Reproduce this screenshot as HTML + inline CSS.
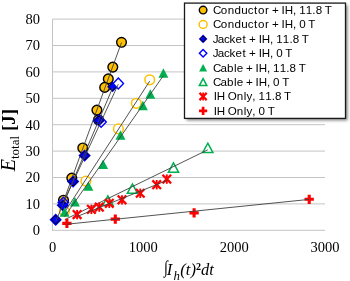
<!DOCTYPE html>
<html><head><meta charset="utf-8"><style>
html,body{margin:0;padding:0;background:#fff;}
body{width:350px;height:281px;overflow:hidden;position:relative;}
svg{position:absolute;left:0;top:0;will-change:transform;}
.tick{font-family:"Liberation Serif",serif;font-size:14.5px;fill:#000;}
.leg{font-family:"Liberation Sans",sans-serif;font-size:11.6px;fill:#000;}
.ax{font-family:"Liberation Serif",serif;fill:#000;}
</style></head><body>
<svg width="350" height="281" viewBox="0 0 350 281">
<defs><filter id="sh" x="-10%" y="-10%" width="120%" height="120%"><feGaussianBlur stdDeviation="1.4"/></filter></defs>
<line x1="52.5" y1="230.3" x2="325" y2="230.3" stroke="#C4C4C4" stroke-width="1"/>
<line x1="52.5" y1="203.9" x2="325" y2="203.9" stroke="#C4C4C4" stroke-width="1"/>
<line x1="52.5" y1="177.5" x2="325" y2="177.5" stroke="#C4C4C4" stroke-width="1"/>
<line x1="52.5" y1="151.1" x2="325" y2="151.1" stroke="#C4C4C4" stroke-width="1"/>
<line x1="52.5" y1="124.7" x2="325" y2="124.7" stroke="#C4C4C4" stroke-width="1"/>
<line x1="52.5" y1="98.3" x2="325" y2="98.3" stroke="#C4C4C4" stroke-width="1"/>
<line x1="52.5" y1="71.9" x2="325" y2="71.9" stroke="#C4C4C4" stroke-width="1"/>
<line x1="52.5" y1="45.5" x2="325" y2="45.5" stroke="#C4C4C4" stroke-width="1"/>
<line x1="52.5" y1="19.1" x2="325" y2="19.1" stroke="#C4C4C4" stroke-width="1"/>
<line x1="52.5" y1="19.1" x2="52.5" y2="230.8" stroke="#C4C4C4" stroke-width="1"/>
<circle cx="121.5" cy="42.3" r="4.85" fill="#FFC000" stroke="#000" stroke-width="1.4"/>
<circle cx="112.8" cy="67.1" r="4.85" fill="#FFC000" stroke="#000" stroke-width="1.4"/>
<circle cx="108.3" cy="78.9" r="4.85" fill="#FFC000" stroke="#000" stroke-width="1.4"/>
<circle cx="104.7" cy="87.4" r="4.85" fill="#FFC000" stroke="#000" stroke-width="1.4"/>
<circle cx="98.5" cy="119.8" r="4.85" fill="#FFC000" stroke="#000" stroke-width="1.4"/>
<circle cx="96.9" cy="110.1" r="4.85" fill="#FFC000" stroke="#000" stroke-width="1.4"/>
<circle cx="82.8" cy="148" r="4.85" fill="#FFC000" stroke="#000" stroke-width="1.4"/>
<circle cx="71.8" cy="178.1" r="4.85" fill="#FFC000" stroke="#000" stroke-width="1.4"/>
<circle cx="63.5" cy="200.2" r="4.85" fill="#FFC000" stroke="#000" stroke-width="1.4"/>
<line x1="63.5" y1="201.3" x2="121.5" y2="42.5" stroke="#404040" stroke-width="0.9"/>
<circle cx="149.7" cy="79.8" r="4.85" fill="#fff" stroke="#FFC000" stroke-width="1.5"/>
<circle cx="136.3" cy="103.3" r="4.85" fill="#fff" stroke="#FFC000" stroke-width="1.5"/>
<circle cx="118.4" cy="128.9" r="4.85" fill="#fff" stroke="#FFC000" stroke-width="1.5"/>
<circle cx="85.9" cy="181.1" r="4.85" fill="#fff" stroke="#FFC000" stroke-width="1.5"/>
<circle cx="64.4" cy="211.3" r="4.85" fill="#fff" stroke="#FFC000" stroke-width="1.5"/>
<line x1="64.4" y1="212.5" x2="149.7" y2="81.1" stroke="#404040" stroke-width="0.9"/>
<path d="M101.1 116.5L106.3 121.9L101.1 127.30000000000001L95.89999999999999 121.9Z" fill="#fff" stroke="#0000FF" stroke-width="1.4"/>
<path d="M112.5 81.39999999999999L117.9 86.8L112.5 92.2L107.1 86.8Z" fill="#0000FF"/><path d="M112.5 82.8L116.5 86.8L112.5 90.8L108.5 86.8Z" fill="none" stroke="#000" stroke-width="1"/>
<path d="M98.9 114.2L105.10000000000001 120.4L98.9 126.60000000000001L92.7 120.4Z" fill="#0000FF"/><path d="M98.9 115.9L103.4 120.4L98.9 124.9L94.4 120.4Z" fill="none" stroke="#000" stroke-width="1"/>
<path d="M84.6 149.4L90.8 155.6L84.6 161.79999999999998L78.39999999999999 155.6Z" fill="#0000FF"/><path d="M84.6 151.1L89.1 155.6L84.6 160.1L80.1 155.6Z" fill="none" stroke="#000" stroke-width="1"/>
<path d="M73.1 175.3L79.3 181.5L73.1 187.7L66.89999999999999 181.5Z" fill="#0000FF"/><path d="M73.1 177.0L77.6 181.5L73.1 186.0L68.6 181.5Z" fill="none" stroke="#000" stroke-width="1"/>
<path d="M62.8 199.10000000000002L69.0 205.3L62.8 211.5L56.599999999999994 205.3Z" fill="#0000FF"/><path d="M62.8 200.8L67.3 205.3L62.8 209.8L58.3 205.3Z" fill="none" stroke="#000" stroke-width="1"/>
<path d="M55.7 213.5L61.900000000000006 219.7L55.7 225.89999999999998L49.5 219.7Z" fill="#0000FF"/><path d="M55.7 215.2L60.2 219.7L55.7 224.2L51.2 219.7Z" fill="none" stroke="#000" stroke-width="1"/>
<line x1="55.7" y1="221.5" x2="112.5" y2="88.1" stroke="#404040" stroke-width="0.9"/>
<path d="M118.3 78.1L123.5 83.5L118.3 88.9L113.1 83.5Z" fill="#fff" stroke="#0000FF" stroke-width="1.4"/>
<path d="M63.3 197.2L68.5 202.6L63.3 208.0L58.099999999999994 202.6Z" fill="none" stroke="#0000FF" stroke-width="1.4"/>
<line x1="63.3" y1="203.1" x2="118.3" y2="84.2" stroke="#404040" stroke-width="0.9"/>
<path d="M163.4 68.25L168.35 77.75L158.45000000000002 77.75Z" fill="#00B050"/>
<path d="M150.3 89.15L155.25 98.65L145.35000000000002 98.65Z" fill="#00B050"/>
<path d="M142.9 100.85L147.85 110.35L137.95000000000002 110.35Z" fill="#00B050"/>
<path d="M120.5 130.15L125.45 139.65L115.55 139.65Z" fill="#00B050"/>
<path d="M103.1 159.55L108.05 169.05L98.14999999999999 169.05Z" fill="#00B050"/>
<path d="M88.4 181.25L93.35000000000001 190.75L83.45 190.75Z" fill="#00B050"/>
<path d="M74.9 197.05L79.85000000000001 206.55L69.95 206.55Z" fill="#00B050"/>
<path d="M64.6 207.25L69.55 216.75L59.64999999999999 216.75Z" fill="#00B050"/>
<line x1="64.6" y1="216.6" x2="163.4" y2="75.6" stroke="#404040" stroke-width="0.9"/>
<path d="M207.8 143.20000000000002L212.9 152.6L202.70000000000002 152.6Z" fill="#fff" stroke="#00B050" stroke-width="1.5" stroke-linejoin="miter"/>
<path d="M173.5 162.9L178.6 172.29999999999998L168.4 172.29999999999998Z" fill="#fff" stroke="#00B050" stroke-width="1.5" stroke-linejoin="miter"/>
<path d="M132.4 183.95000000000002L137.5 193.35L127.30000000000001 193.35Z" fill="#fff" stroke="#00B050" stroke-width="1.5" stroke-linejoin="miter"/>
<path d="M107.9 195.8L113.0 205.2L102.80000000000001 205.2Z" fill="#fff" stroke="#00B050" stroke-width="1.5" stroke-linejoin="miter"/>
<line x1="64.8" y1="219.6" x2="207.8" y2="149.8" stroke="#404040" stroke-width="0.9"/>
<path d="M72.8 210.29999999999998L81.39999999999999 218.9M81.39999999999999 210.29999999999998L72.8 218.9" stroke="#FF0000" stroke-width="2.3" fill="none"/><path d="M77.1 209.9L77.1 219.29999999999998" stroke="#FF0000" stroke-width="1.9" fill="none"/>
<path d="M87.10000000000001 205.0L95.7 213.60000000000002M95.7 205.0L87.10000000000001 213.60000000000002" stroke="#FF0000" stroke-width="2.3" fill="none"/><path d="M91.4 204.60000000000002L91.4 214.0" stroke="#FF0000" stroke-width="1.9" fill="none"/>
<path d="M95.0 202.79999999999998L103.6 211.4M103.6 202.79999999999998L95.0 211.4" stroke="#FF0000" stroke-width="2.3" fill="none"/><path d="M99.3 202.4L99.3 211.79999999999998" stroke="#FF0000" stroke-width="1.9" fill="none"/>
<path d="M105.0 199.0L113.6 207.60000000000002M113.6 199.0L105.0 207.60000000000002" stroke="#FF0000" stroke-width="2.3" fill="none"/><path d="M109.3 198.60000000000002L109.3 208.0" stroke="#FF0000" stroke-width="1.9" fill="none"/>
<path d="M117.7 195.54999999999998L126.3 204.15M126.3 195.54999999999998L117.7 204.15" stroke="#FF0000" stroke-width="2.3" fill="none"/><path d="M122 195.15L122 204.54999999999998" stroke="#FF0000" stroke-width="1.9" fill="none"/>
<path d="M135.95 188.95L144.55 197.55M144.55 188.95L135.95 197.55" stroke="#FF0000" stroke-width="2.3" fill="none"/><path d="M140.25 188.55L140.25 197.95" stroke="#FF0000" stroke-width="1.9" fill="none"/>
<path d="M152.39999999999998 180.39999999999998L161.0 189.0M161.0 180.39999999999998L152.39999999999998 189.0" stroke="#FF0000" stroke-width="2.3" fill="none"/><path d="M156.7 180.0L156.7 189.39999999999998" stroke="#FF0000" stroke-width="1.9" fill="none"/>
<path d="M162.5 174.79999999999998L171.10000000000002 183.4M171.10000000000002 174.79999999999998L162.5 183.4" stroke="#FF0000" stroke-width="2.3" fill="none"/><path d="M166.8 174.4L166.8 183.79999999999998" stroke="#FF0000" stroke-width="1.9" fill="none"/>
<line x1="77.1" y1="216.5" x2="166.8" y2="180.5" stroke="#404040" stroke-width="0.9"/>
<path d="M62.25000000000001 223.4H71.55000000000001M66.9 218.75V228.05" stroke="#FF0000" stroke-width="3.1" fill="none"/>
<path d="M110.64999999999999 219.1H119.95M115.3 214.45V223.75" stroke="#FF0000" stroke-width="3.1" fill="none"/>
<path d="M189.45 212.9H198.75M194.1 208.25V217.55" stroke="#FF0000" stroke-width="3.1" fill="none"/>
<path d="M304.55 199.3H313.84999999999997M309.2 194.65V203.95000000000002" stroke="#FF0000" stroke-width="3.1" fill="none"/>
<line x1="66.9" y1="224.2" x2="309.2" y2="199.4" stroke="#404040" stroke-width="0.9"/>
<text x="40" y="235.1" text-anchor="end" class="tick">0</text>
<text x="40" y="208.7" text-anchor="end" class="tick">10</text>
<text x="40" y="182.3" text-anchor="end" class="tick">20</text>
<text x="40" y="155.9" text-anchor="end" class="tick">30</text>
<text x="40" y="129.5" text-anchor="end" class="tick">40</text>
<text x="40" y="103.1" text-anchor="end" class="tick">50</text>
<text x="40" y="76.7" text-anchor="end" class="tick">60</text>
<text x="40" y="50.3" text-anchor="end" class="tick">70</text>
<text x="40" y="23.9" text-anchor="end" class="tick">80</text>
<text x="52.5" y="251.8" text-anchor="middle" class="tick">0</text>
<text x="143.3" y="251.8" text-anchor="middle" class="tick">1000</text>
<text x="234.2" y="251.8" text-anchor="middle" class="tick">2000</text>
<text x="325.0" y="251.8" text-anchor="middle" class="tick">3000</text>
<rect x="186.5" y="5.1" width="161" height="115.3" fill="#000" opacity="0.5" filter="url(#sh)"/>
<rect x="184.5" y="3.1" width="161" height="115.3" fill="#fff" stroke="#1a1a1a" stroke-width="1.3"/>
<circle cx="203.1" cy="10.1" r="3.8" fill="#FFC000" stroke="#000" stroke-width="1.4"/>
<text x="212.98 220.83 227.68 234.51 241.34 247.83 254.04 258.03 265.02 269.07 272.01 278.49 281.6 284.71 292.95 296.05 299.2 305.78 312.33 315.65 322.03 324.74" y="14.0" class="leg">Conductor + IH, 11.8 T</text>
<circle cx="203.1" cy="24.5" r="4.0" fill="#fff" stroke="#FFC000" stroke-width="1.5"/>
<text x="212.98 220.83 227.68 234.51 241.34 247.83 254.04 258.03 265.02 269.07 272.01 278.49 281.6 284.71 292.95 296.05 299.2 305.57 308.28" y="28.4" class="leg">Conductor + IH, 0 T</text>
<path d="M203.1 34.6L207.4 38.9L203.1 43.199999999999996L198.79999999999998 38.9Z" fill="#0000FF"/><path d="M203.1 35.9L206.1 38.9L203.1 41.9L200.1 38.9Z" fill="none" stroke="#000" stroke-width="1"/>
<text x="212.87 217.73 223.92 229.62 235.49 242.51 246.16 249.09 255.57 258.68 261.79 270.04 273.13 276.28 282.87 289.42 292.74 299.12 301.82" y="42.8" class="leg">Jacket + IH, 11.8 T</text>
<path d="M203.1 49.6L206.79999999999998 53.300000000000004L203.1 57.00000000000001L199.4 53.300000000000004Z" fill="#fff" stroke="#0000FF" stroke-width="1.4"/>
<text x="212.87 217.73 223.92 229.62 235.49 242.51 246.16 249.09 255.57 258.68 261.79 270.04 273.13 276.28 282.66 285.36" y="57.2" class="leg">Jacket + IH, 0 T</text>
<path d="M203.1 63.95L207.1 71.45L199.1 71.45Z" fill="#00B050"/>
<text x="212.98 220.52 227.05 233.89 236.68 243.0 245.93 252.41 255.52 258.63 266.88 269.97 273.12 279.71 286.26 289.58 295.96 298.66" y="71.6" class="leg">Cable + IH, 11.8 T</text>
<path d="M203.1 78.6L206.85 85.6L199.35 85.6Z" fill="#fff" stroke="#00B050" stroke-width="1.5" stroke-linejoin="miter"/>
<text x="212.98 220.52 227.05 233.89 236.68 243.0 245.93 252.41 255.52 258.63 266.88 269.97 273.12 279.5 282.2" y="86.0" class="leg">Cable + IH, 0 T</text>
<path d="M199.5 92.9L206.7 100.1M206.7 92.9L199.5 100.1" stroke="#FF0000" stroke-width="2.2" fill="none"/><path d="M203.1 92.6L203.1 100.4" stroke="#FF0000" stroke-width="1.7" fill="none"/>
<text x="213.73 216.84 224.93 227.81 236.81 243.65 246.48 252.33 255.42 258.57 265.16 271.71 275.03 281.41 284.11" y="100.4" class="leg">IH Only, 11.8 T</text>
<path d="M199.0 110.89999999999999H207.2M203.1 106.8V114.99999999999999" stroke="#FF0000" stroke-width="2.7" fill="none"/>
<text x="213.73 216.84 224.93 227.81 236.81 243.65 246.48 252.33 255.42 258.57 264.95 267.65" y="114.8" class="leg">IH Only, 0 T</text>
<text class="ax" transform="translate(164,272.6) scale(0.8,1)" x="0" y="0" font-size="17.7">&#x222B;</text>
<text class="ax" x="166.8" y="275" font-size="16.5" font-style="italic"><tspan>I</tspan><tspan x="173.4" font-size="12.8" dy="4.9">h</tspan><tspan x="180.3" dy="-4.9">(t)</tspan><tspan font-size="10" font-style="normal" font-weight="bold" dy="-5">2</tspan><tspan dy="5">dt</tspan></text>
<text class="ax" transform="translate(15,171.3) rotate(-90)" x="0" y="0" font-size="20"><tspan font-style="italic">E</tspan><tspan font-size="13" dy="3.8">total</tspan><tspan dy="-3.8"> </tspan><tspan font-weight="bold" font-size="19">[J]</tspan></text>
</svg>
</body></html>
